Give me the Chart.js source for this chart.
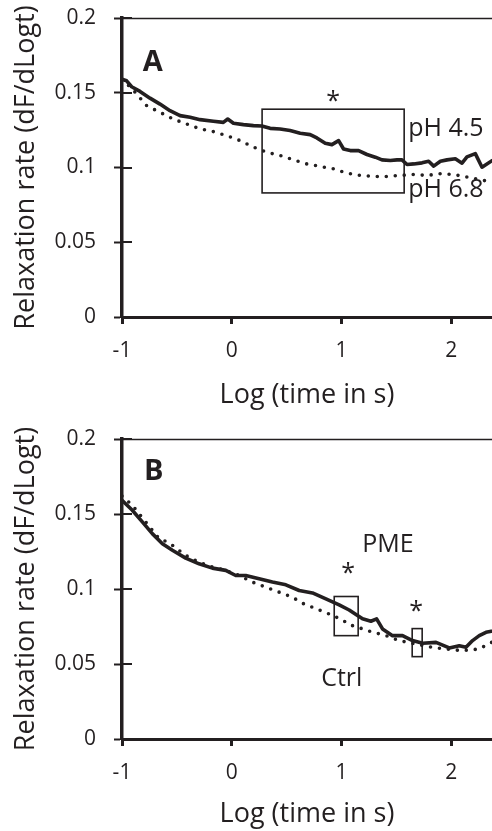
<!DOCTYPE html>
<html>
<head>
<meta charset="utf-8">
<script src="https://cdn.jsdelivr.net/npm/chart.js@4/dist/chart.umd.min.js"></script>
<style>
  html, body { margin: 0; padding: 0; background: #ffffff; overflow: hidden; }
  #wrap { position: relative; width: 492px; height: 831px; }
  .panel { position: absolute; left: 0; }
  #panelA { top: 0; }
  #panelB { top: 421px; }
</style>
</head>
<body>
<div id="wrap">
  <div class="panel" id="panelA"><canvas id="chartA" width="492" height="413"></canvas></div>
  <div class="panel" id="panelB"><canvas id="chartB" width="492" height="410"></canvas></div>
</div>
<script>
// ---------- DATA ----------
const xTickValues = [-1, 0, 1, 2];
const yTickValues = [0, 0.05, 0.1, 0.15, 0.2];
const yTickLabels = ["0", "0.05", "0.1", "0.15", "0.2"];
const xAxisTitle = "Log (time in s)";
const yAxisTitle = "Relaxation rate (dF/dLogt)";

// Panel A: pH 4.5 (solid)
const acidX = [-1.0, -0.958, -0.912, -0.836, -0.745, -0.654, -0.563, -0.471, -0.380, -0.289, -0.168, -0.077, -0.037, 0.015, 0.106, 0.197, 0.273, 0.349, 0.440, 0.531, 0.623, 0.714, 0.775, 0.851, 0.912, 0.973, 1.018, 1.079, 1.155, 1.231, 1.307, 1.368, 1.444, 1.505, 1.550, 1.596, 1.657, 1.733, 1.793, 1.839, 1.900, 1.960, 2.036, 2.097, 2.142, 2.218, 2.279, 2.373, 2.45];
const acidY = [0.1590, 0.1580, 0.1540, 0.1509, 0.1464, 0.1424, 0.1380, 0.1347, 0.1336, 0.1320, 0.1309, 0.1302, 0.1324, 0.1296, 0.1287, 0.1280, 0.1278, 0.1262, 0.1258, 0.1247, 0.1229, 0.1220, 0.1198, 0.1162, 0.1153, 0.1180, 0.1124, 0.1113, 0.1113, 0.1087, 0.1069, 0.1051, 0.1047, 0.1051, 0.1051, 0.1020, 0.1024, 0.1031, 0.1042, 0.1009, 0.1042, 0.1051, 0.1058, 0.1029, 0.1071, 0.1093, 0.1002, 0.1047, 0.1050];

// Panel A: pH 6.8 (dotted)
const neutralX = [-1.0, -0.9, -0.775, -0.654, -0.532, -0.411, -0.289, -0.167, -0.046, 0.076, 0.197, 0.319, 0.440, 0.562, 0.683, 0.805, 0.927, 1.048, 1.170, 1.291, 1.413, 1.534, 1.656, 1.777, 1.899, 2.020, 2.142, 2.263, 2.373, 2.45];
const neutralY = [0.1590, 0.1520, 0.1413, 0.1369, 0.1324, 0.1291, 0.1258, 0.1240, 0.1213, 0.1180, 0.1136, 0.1102, 0.1080, 0.1051, 0.1024, 0.1007, 0.0991, 0.0962, 0.0947, 0.0940, 0.0940, 0.0947, 0.0953, 0.0947, 0.0958, 0.0953, 0.0936, 0.0918, 0.0902, 0.0900];

// Panel B: PME (solid)
const pmeX = [-1.0, -0.906, -0.815, -0.724, -0.632, -0.541, -0.420, -0.298, -0.177, -0.055, 0.036, 0.127, 0.249, 0.370, 0.492, 0.614, 0.735, 0.857, 0.978, 1.069, 1.145, 1.191, 1.267, 1.319, 1.373, 1.464, 1.555, 1.646, 1.738, 1.860, 1.981, 2.072, 2.133, 2.193, 2.254, 2.315, 2.364, 2.45];
const pmeY = [0.1592, 0.1525, 0.1447, 0.1369, 0.1302, 0.1258, 0.1206, 0.1168, 0.1139, 0.1124, 0.1090, 0.1090, 0.1068, 0.1046, 0.1028, 0.0990, 0.0974, 0.0934, 0.0894, 0.0860, 0.0823, 0.0801, 0.0785, 0.0801, 0.0734, 0.0689, 0.0689, 0.0656, 0.0638, 0.0644, 0.0607, 0.0622, 0.0611, 0.0656, 0.0689, 0.0711, 0.0718, 0.0720];

// Panel B: Ctrl (dotted)
const ctrlX = [-1.0, -0.906, -0.784, -0.663, -0.572, -0.420, -0.298, -0.177, -0.055, 0.067, 0.188, 0.310, 0.431, 0.553, 0.644, 0.735, 0.796, 0.872, 1.008, 1.069, 1.145, 1.267, 1.404, 1.525, 1.646, 1.829, 1.951, 2.102, 2.254, 2.364, 2.45];
const ctrlY = [0.1620, 0.1559, 0.1447, 0.1336, 0.1309, 0.1224, 0.1179, 0.1146, 0.1124, 0.1090, 0.1046, 0.1012, 0.0979, 0.0945, 0.0905, 0.0878, 0.0860, 0.0838, 0.0794, 0.0763, 0.0745, 0.0716, 0.0689, 0.0656, 0.0638, 0.0611, 0.0600, 0.0589, 0.0600, 0.0644, 0.0650];

// Annotations (data coordinates)
const boxesA = [{x0: 0.276, x1: 1.57, y0: 0.083, y1: 0.139}];
const starsA = [{x: 0.923, y: 0.148}];
const labelsA = [
  {text: "pH 4.5", x: 1.607, y: 0.1213},
  {text: "pH 6.8", x: 1.607, y: 0.0800}
];
const letterA = {text: "A", x: -0.81, y: 0.1647};

const boxesB = [
  {x0: 0.933, x1: 1.151, y0: 0.0689, y1: 0.0950},
  {x0: 1.643, x1: 1.734, y0: 0.0549, y1: 0.0736}
];
const starsB = [{x: 1.06, y: 0.1137}, {x: 1.68, y: 0.0890}];
const labelsB = [
  {text: "PME", x: 1.188, y: 0.1244},
  {text: "Ctrl", x: 0.814, y: 0.0355}
];
const letterB = {text: "B", x: -0.80, y: 0.1726};

// ---------- STYLE ----------
const INK = "#231f20";
const FONT = "'Open Sans', sans-serif";

function pts(xs, ys) { return xs.map((x, i) => ({x: x, y: ys[i]})); }

const annotationPlugin = {
  id: 'annot',
  afterDatasetsDraw(chart, args, opts) {
    const ctx = chart.ctx;
    const xs = chart.scales.x, ys = chart.scales.y;
    const ca = chart.chartArea;
    ctx.save();
    // top frame line
    ctx.strokeStyle = INK;
    ctx.lineWidth = 1.5;
    ctx.beginPath();
    ctx.moveTo(ca.left, ca.top + 0.5);
    ctx.lineTo(chart.width, ca.top + 0.5);
    ctx.stroke();
    // inner part of y ticks
    ctx.lineWidth = 2;
    yTickValues.forEach(v => {
      const py = Math.round(ys.getPixelForValue(v));
      ctx.beginPath();
      ctx.moveTo(ca.left, py);
      ctx.lineTo(ca.left + 10, py);
      ctx.stroke();
    });
    // boxes
    ctx.lineWidth = 1.6;
    (opts.boxes || []).forEach(b => {
      const l = xs.getPixelForValue(b.x0), r = xs.getPixelForValue(b.x1);
      const t = ys.getPixelForValue(b.y1), btm = ys.getPixelForValue(b.y0);
      ctx.strokeRect(l, t, r - l, btm - t);
    });
    ctx.fillStyle = INK;
    // stars
    ctx.font = "25px " + FONT;
    ctx.textAlign = 'center';
    ctx.textBaseline = 'alphabetic';
    (opts.stars || []).forEach(s => {
      const m = ctx.measureText('*');
      const cx = xs.getPixelForValue(s.x), cy = ys.getPixelForValue(s.y);
      ctx.fillText('*', cx, cy + (m.actualBoundingBoxAscent - m.actualBoundingBoxDescent) / 2);
    });
    // labels
    ctx.font = "25px " + FONT;
    ctx.textAlign = 'left';
    (opts.labels || []).forEach(lb => {
      ctx.fillText(lb.text, xs.getPixelForValue(lb.x), ys.getPixelForValue(lb.y));
    });
    // panel letter
    if (opts.letter) {
      ctx.font = "bold 29px " + FONT;
      ctx.fillText(opts.letter.text, xs.getPixelForValue(opts.letter.x), ys.getPixelForValue(opts.letter.y));
    }
    ctx.restore();
  }
};

function makeChart(id, solid, dotted, ann, xHeight, titlePadBottom) {
  return new Chart(document.getElementById(id), {
    type: 'line',
    data: {
      datasets: [
        {
          data: solid, borderColor: INK, borderWidth: 3.6, pointRadius: 0,
          tension: 0, borderJoinStyle: 'round', borderCapStyle: 'round', fill: false
        },
        {
          data: dotted, borderColor: INK, borderWidth: 3.6, pointRadius: 0,
          tension: 0, borderDash: [0, 9], borderCapStyle: 'round', fill: false
        }
      ]
    },
    options: {
      responsive: false,
      animation: false,
      devicePixelRatio: 1,
      layout: { padding: { top: 18, left: 0, right: 0, bottom: 0 } },
      plugins: { legend: { display: false }, tooltip: { enabled: false }, annot: ann },
      scales: {
        x: {
          type: 'linear', min: -1, max: 2.37,
          afterBuildTicks: s => { s.ticks = xTickValues.map(v => ({value: v})); },
          afterFit: s => { s.height = xHeight; s.paddingLeft = 0; s.paddingRight = 0; },
          grid: { drawOnChartArea: false, drawTicks: true, tickLength: 7, tickWidth: 3, color: INK },
          border: { display: true, color: INK, width: 3 },
          ticks: { color: INK, font: { family: FONT, size: 21 }, padding: 14, maxRotation: 0 },
          title: { display: true, text: xAxisTitle, color: INK, font: { family: FONT, size: 27 }, padding: { top: 0, bottom: titlePadBottom } }
        },
        y: {
          type: 'linear', min: 0, max: 0.2,
          afterBuildTicks: s => { s.ticks = yTickValues.map(v => ({value: v})); },
          afterFit: s => { s.width = 122; s.paddingTop = 0; s.paddingBottom = 0; },
          grid: { drawOnChartArea: false, drawTicks: true, tickLength: 8, tickWidth: 2, color: INK },
          border: { display: true, color: INK, width: 3.5 },
          ticks: {
            color: INK, font: { family: FONT, size: 21 }, padding: 18,
            callback: (v) => { const i = yTickValues.findIndex(t => Math.abs(t - v) < 1e-9); return i >= 0 ? yTickLabels[i] : ''; }
          },
          title: { display: true, text: yAxisTitle, color: INK, font: { family: FONT, size: 27 }, padding: { top: 10, bottom: 0 } }
        }
      }
    },
    plugins: [annotationPlugin]
  });
}

makeChart('chartA', pts(acidX, acidY), pts(neutralX, neutralY),
  { boxes: boxesA, stars: starsA, labels: labelsA, letter: letterA }, 96, 1);
makeChart('chartB', pts(pmeX, pmeY), pts(ctrlX, ctrlY),
  { boxes: boxesB, stars: starsB, labels: labelsB, letter: letterB }, 92, 0);
</script>
</body>
</html>
